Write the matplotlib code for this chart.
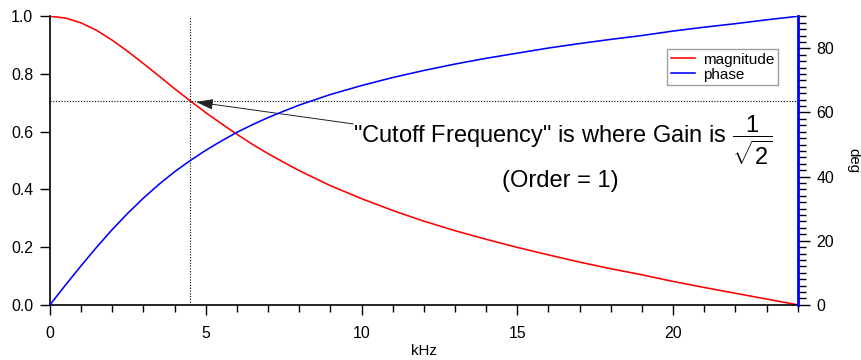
import matplotlib
matplotlib.use("Agg")
import matplotlib.pyplot as plt

plt.rcParams["font.family"] = ["Liberation Sans", "DejaVu Sans"]
plt.rcParams["mathtext.fontset"] = "custom"
plt.rcParams["mathtext.rm"] = "Liberation Sans"
plt.rcParams["mathtext.it"] = "Liberation Sans:italic"
plt.rcParams["mathtext.bf"] = "Liberation Sans:bold"

# First-order low-pass response, fs = 48 kHz
freq_khz = [0, 0.5, 1, 1.5, 2, 2.5, 3, 3.5, 4, 4.5, 5, 5.5, 6, 6.5, 7, 7.5, 8,
            9, 10, 11, 12, 13, 14, 15, 16, 17, 18, 19, 20, 21, 22, 23, 24]
magnitude = [1.000, 0.994, 0.977, 0.951, 0.917, 0.878, 0.836, 0.793, 0.749, 0.707,
             0.666, 0.628, 0.591, 0.556, 0.524, 0.494, 0.465,
             0.413, 0.368, 0.327, 0.290, 0.257, 0.227, 0.199, 0.173, 0.148,
             0.125, 0.104, 0.081, 0.060, 0.040, 0.020, 0.000]
phase_deg = [0.0, 6.2, 12.2, 18.0, 23.5, 28.6, 33.3, 37.6, 41.5, 45.0,
             48.2, 51.1, 53.8, 56.2, 58.4, 60.4, 62.3,
             65.6, 68.4, 70.9, 73.1, 75.1, 76.9, 78.5, 80.1, 81.5,
             82.8, 84.0, 85.4, 86.6, 87.7, 88.9, 90.0]

cutoff_khz = 4.5
cutoff_gain = 0.707

fig = plt.figure(figsize=(8.61, 3.6), dpi=100)
ax = fig.add_axes([50 / 861, 1 - 304.8 / 360, 747.7 / 861, 288.5 / 360])
ax2 = ax.twinx()

l1, = ax.plot(freq_khz, magnitude, color="#ff0000", lw=1.15, label="magnitude")
l2, = ax2.plot(freq_khz, phase_deg, color="#0000ff", lw=1.15, label="phase")

# cutoff guides
ax.plot([cutoff_khz, cutoff_khz], [0, 1.0], color="black", lw=0.8,
        linestyle=(0, (1, 1.5)))
ax.plot([0, 24], [cutoff_gain, cutoff_gain], color="black", lw=0.8,
        linestyle=(0, (1, 1.5)))

ax.set_xlim(0, 24)
ax.set_ylim(0, 1.0)
ax2.set_ylim(0, 90)

ax.set_xticks([0, 5, 10, 15, 20])
ax.set_xticks(range(0, 25), minor=True)
ax.set_yticks([0.0, 0.2, 0.4, 0.6, 0.8, 1.0])
ax.set_yticklabels(["0.0", "0.2", "0.4", "0.6", "0.8", "1.0"])
ax2.set_yticks([0, 20, 40, 60, 80])
ax2.set_yticks(range(0, 91, 2), minor=True)

for s in ("top", "right"):
    ax.spines[s].set_visible(False)
for s in ("top", "left", "bottom"):
    ax2.spines[s].set_visible(False)
ax.spines["left"].set_linewidth(1.2)
ax.spines["bottom"].set_linewidth(1.2)
ax2.spines["right"].set_color("#0000ff")
ax2.spines["right"].set_linewidth(2.0)

ax.tick_params(axis="both", which="major", direction="out", length=7.5, width=1.0,
               labelsize=11.4, pad=4.5)
ax.tick_params(axis="x", which="minor", direction="out", length=4.8, width=1.0)
ax.tick_params(axis="x", which="major", pad=8)
ax2.tick_params(axis="y", which="major", direction="out", length=8.5, width=1.0,
                labelsize=11.4, pad=4.8)
ax2.tick_params(axis="y", which="minor", direction="out", length=5.5, width=1.0)

ax.set_xlabel("kHz", fontsize=10.8, labelpad=2)
ax2.set_ylabel("deg", fontsize=10.8, rotation=-90, labelpad=19)

ax.annotate("", xy=(4.69, 0.703), xytext=(9.73, 0.627),
            arrowprops=dict(arrowstyle="-|>,head_length=0.8,head_width=0.25",
                            lw=0.7, color="#222222",
                            mutation_scale=13, shrinkA=0, shrinkB=0))
ax.text(9.73, 0.561, '"Cutoff Frequency" is where Gain is $\\dfrac{1}{\\sqrt{2}}$',
        fontsize=17, ha="left", va="baseline")
ax.text(16.38, 0.429, "(Order = 1)", fontsize=17, ha="center", va="center")

leg = ax.legend([l1, l2], ["magnitude", "phase"], loc="upper right",
                bbox_to_anchor=(778 / 861, 1 - 49 / 360), bbox_transform=fig.transFigure,
                fontsize=11, frameon=True, fancybox=False, handlelength=1.6,
                handletextpad=0.5, borderpad=0.25, labelspacing=0.05,
                borderaxespad=0)
leg.get_frame().set_edgecolor("#888888")
leg.get_frame().set_linewidth(1.0)

fig.savefig("out.png", dpi=100)
